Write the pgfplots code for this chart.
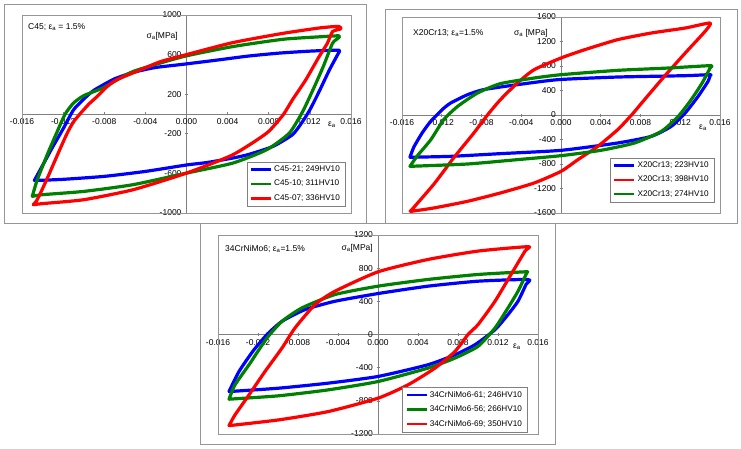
\documentclass[border=0pt]{standalone}
\usepackage{fontspec}
\setmainfont{Liberation Sans}
\usepackage{pgfplots}
\pgfplotsset{compat=1.18}
\definecolor{cblue}{RGB}{0,0,255}
\definecolor{cgreen}{RGB}{0,128,0}
\definecolor{cred}{RGB}{255,0,0}
\definecolor{framegray}{RGB}{150,150,150}
\pgfplotsset{
  loopax/.style={
    scale only axis,
    anchor=south west,
    axis lines=middle,
    axis line style={-, draw=gray, line width=0.6pt},
    xmin=-0.016, xmax=0.016,
    xtick={-0.016,-0.012,-0.008,-0.004,0,0.004,0.008,0.012,0.016},
    hide obscured x ticks=false, hide obscured y ticks=false,
    scaled x ticks=false, scaled y ticks=false,
    /pgf/number format/assume math mode=true,
    xticklabel style={/pgf/number format/.cd, fixed, fixed zerofill, precision=3},
    yticklabel style={/pgf/number format/.cd, 1000 sep={}},
    tick style={gray, line width=0.6pt},
    major tick length=3pt,
    tick label style={font=\fontsize{8.5}{9}\selectfont, text=black},
    clip=false,
    every axis plot/.append style={line width=3.2pt, line join=round, line cap=round, smooth, tension=0.35},
    legend cell align=left,
    legend image code/.code={\draw[#1, line width=2.5pt, line cap=butt, sharp plot] (0pt,0pt) -- (20pt,0pt);},
    legend style={draw=gray, fill=white, font=\fontsize{8.2}{9}\selectfont,
      inner xsep=3pt, inner ysep=2pt, row sep=3.2pt, cells={anchor=west},
      /tikz/every odd column/.style={column sep=0pt}},
    execute at end axis={\draw[framegray, line width=0.6pt] (rel axis cs:0,0) rectangle (rel axis cs:1,1);},
  }
}
\begin{document}
\begin{tikzpicture}
\useasboundingbox (0pt,0pt) rectangle (741pt,-449pt);
\fill[white] (0pt,0pt) rectangle (741pt,-449pt);
% outer frames
\draw[framegray, line width=0.6pt] (4pt,-4pt) rectangle (366pt,-223pt);
\draw[framegray, line width=0.6pt] (385pt,-9pt) rectangle (737pt,-223pt);
\draw[framegray, line width=0.6pt] (200pt,-223pt) rectangle (555pt,-444pt);

% ---------------- Panel 1: C45
\begin{axis}[loopax, at={(22pt,-213pt)}, width=329pt, height=198pt,
  ymin=-1000, ymax=1000, ytick={-1000,-600,-200,200,600,1000},
  legend style={at={(rel axis cs:0.982,0.035)}, anchor=south east}]
\addplot[cblue] coordinates {
(-0.0148,-672) (-0.0140,-520) (-0.0130,-330) (-0.0120,-150) (-0.0110,40) (-0.0100,150)
(-0.0090,240) (-0.0070,355) (-0.0050,425) (-0.0030,470) (-0.0005,500) (0.0030,545)
(0.0060,585) (0.0090,615) (0.0120,635) (0.0145,645) (0.0149,640)
(0.0147,600) (0.0139,445) (0.0129,227) (0.0120,42) (0.0112,-90) (0.0103,-210)
(0.0084,-328) (0.0060,-410) (0.0045,-445) (0.0020,-490) (0.0000,-515) (-0.0040,-580)
(-0.0080,-630) (-0.0120,-660) (-0.0148,-672)};
\addplot[cgreen] coordinates {
(-0.0150,-832) (-0.0145,-660) (-0.0135,-400) (-0.0125,-160) (-0.0118,0) (-0.0110,110)
(-0.0100,185) (-0.0081,265) (-0.0052,429) (-0.0003,580) (0.0045,681) (0.0094,755)
(0.0130,780) (0.0148,790)
(0.0148,770) (0.0142,714) (0.0133,479) (0.0123,244) (0.0113,25) (0.0100,-193)
(0.0078,-361) (0.0045,-496) (0.0000,-597) (-0.0052,-714) (-0.0100,-782)
(-0.0140,-815) (-0.0150,-832)};
\addplot[cred] coordinates {
(-0.0149,-916) (-0.0146,-880) (-0.0142,-798) (-0.0135,-640) (-0.0129,-496) (-0.0122,-330)
(-0.0116,-193) (-0.0110,-80) (-0.0103,8) (-0.0095,100) (-0.0087,176) (-0.0078,270)
(-0.0068,345) (-0.0045,445) (-0.0025,530) (0.0000,600) (0.0045,721) (0.0094,815)
(0.0130,870) (0.0148,885)
(0.0150,860) (0.0142,832) (0.0137,714) (0.0129,580) (0.0116,345) (0.0103,143)
(0.0094,-8) (0.0078,-193) (0.0045,-412) (0.0000,-597) (-0.0052,-765) (-0.0100,-866)
(-0.0140,-905) (-0.0149,-916)};
\legend{C45-21; 249HV10, C45-10; 311HV10, C45-07; 336HV10}
\end{axis}

% ---------------- Panel 2: X20Cr13
\begin{axis}[loopax, at={(402pt,-213pt)}, width=318pt, height=196pt,
  ymin=-1600, ymax=1600, ytick={-1600,-1200,-800,-400,0,400,800,1200,1600},
  legend style={at={(rel axis cs:0.981,0.056)}, anchor=south east}]
\addplot[cblue] coordinates {
(-0.0152,-690) (-0.0148,-520) (-0.0140,-300) (-0.0132,-120) (-0.0125,0) (-0.0118,110)
(-0.0111,196) (-0.0094,332) (-0.0078,414) (-0.0044,495) (-0.0003,577) (0.0057,620)
(0.0125,642) (0.0150,659)
(0.0150,640) (0.0148,550) (0.0138,305) (0.0125,33) (0.0111,-185) (0.0091,-348)
(0.0057,-457) (0.0000,-577) (-0.0061,-631) (-0.0111,-675) (-0.0152,-690)};
\addplot[cred] coordinates {
(-0.0151,-1562) (-0.0128,-1130) (-0.0108,-700) (-0.0088,-300) (-0.0074,0) (-0.0061,250)
(-0.0044,522) (-0.0027,740) (0.0000,931) (0.0024,1067) (0.0057,1230) (0.0091,1339)
(0.0125,1420) (0.0150,1502)
(0.0145,1366) (0.0125,1012) (0.0104,631) (0.0084,250) (0.0071,0) (0.0057,-240)
(0.0037,-512) (0.0017,-729) (0.0000,-920) (-0.0027,-1110) (-0.0061,-1273)
(-0.0094,-1409) (-0.0128,-1518) (-0.0151,-1573) (-0.0151,-1562)};
\addplot[cgreen] coordinates {
(-0.0152,-838) (-0.0145,-675) (-0.0131,-403) (-0.0118,-76) (-0.0104,141) (-0.0084,359)
(-0.0061,512) (-0.0027,604) (0.0000,658) (0.0057,729) (0.0108,767) (0.0150,805)
(0.0150,767) (0.0142,522) (0.0131,250) (0.0118,-22) (0.0101,-267) (0.0074,-457)
(0.0040,-577) (0.0000,-664) (-0.0044,-729) (-0.0094,-800) (-0.0152,-838)};
\legend{X20Cr13; 223HV10, X20Cr13; 398HV10, X20Cr13; 274HV10}
\end{axis}

% ---------------- Panel 3: 34CrNiMo6
\begin{axis}[loopax, at={(218pt,-434pt)}, width=320pt, height=199pt,
  ymin=-1200, ymax=1200, ytick={-1200,-800,-400,0,400,800,1200},
  legend style={at={(rel axis cs:0.966,0.01)}, anchor=south east}]
\addplot[cblue] coordinates {
(-0.0149,-688) (-0.0139,-446) (-0.0125,-200) (-0.0111,0) (-0.0096,159) (-0.0073,300)
(-0.0043,401) (0.0000,494) (0.0050,583) (0.0100,643) (0.0150,663)
(0.0148,603) (0.0140,401) (0.0130,240) (0.0117,58) (0.0097,-123) (0.0077,-244)
(0.0050,-365) (0.0000,-506) (-0.0050,-587) (-0.0100,-648) (-0.0149,-688)};
\addplot[cgreen] coordinates {
(-0.0149,-780) (-0.0143,-607) (-0.0129,-365) (-0.0111,-42) (-0.0096,159) (-0.0076,321)
(-0.0043,482) (0.0000,583) (0.0050,664) (0.0100,724) (0.0147,756) (0.0149,750)
(0.0148,724) (0.0140,522) (0.0130,321) (0.0117,79) (0.0100,-143) (0.0077,-284)
(0.0050,-405) (0.0000,-567) (-0.0050,-668) (-0.0100,-740) (-0.0149,-780)};
\addplot[cred] coordinates {
(-0.0149,-1099) (-0.0143,-970) (-0.0129,-728) (-0.0113,-446) (-0.0096,-163) (-0.0083,79)
(-0.0063,361) (-0.0043,522) (0.0000,756) (0.0050,905) (0.0100,1006) (0.0150,1059)
(0.0147,1006) (0.0133,724) (0.0117,401) (0.0100,119) (0.0090,0) (0.0077,-204)
(0.0057,-405) (0.0030,-607) (0.0000,-768) (-0.0050,-930) (-0.0100,-1031) (-0.0149,-1099)};
\legend{34CrNiMo6-61; 246HV10, 34CrNiMo6-56; 266HV10, 34CrNiMo6-69; 350HV10}
\end{axis}

% titles and labels
\begin{scope}[font=\fontsize{8.5}{9}\selectfont]
\node[anchor=west, inner sep=0pt] at (28pt,-27pt) {C45; ε\textsubscript{a} = 1.5\%};
\node[anchor=west, inner sep=0pt] at (413pt,-33pt) {X20Cr13; ε\textsubscript{a}=1.5\%};
\node[anchor=west, inner sep=0pt] at (225pt,-249pt) {34CrNiMo6; ε\textsubscript{a}=1.5\%};
\node[anchor=east, inner sep=0pt] at (178pt,-36pt) {σ\textsubscript{a}[MPa]};
\node[anchor=east, inner sep=0pt] at (548pt,-33pt) {σ\textsubscript{a} [MPa]};
\node[anchor=east, inner sep=0pt] at (373pt,-248pt) {σ\textsubscript{a}[MPa]};
\node[inner sep=0pt] at (332pt,-125pt) {ε\textsubscript{a}};
\node[inner sep=0pt] at (703pt,-128pt) {ε\textsubscript{a}};
\node[inner sep=0pt] at (517pt,-347pt) {ε\textsubscript{a}};
\end{scope}
\end{tikzpicture}
\end{document}
